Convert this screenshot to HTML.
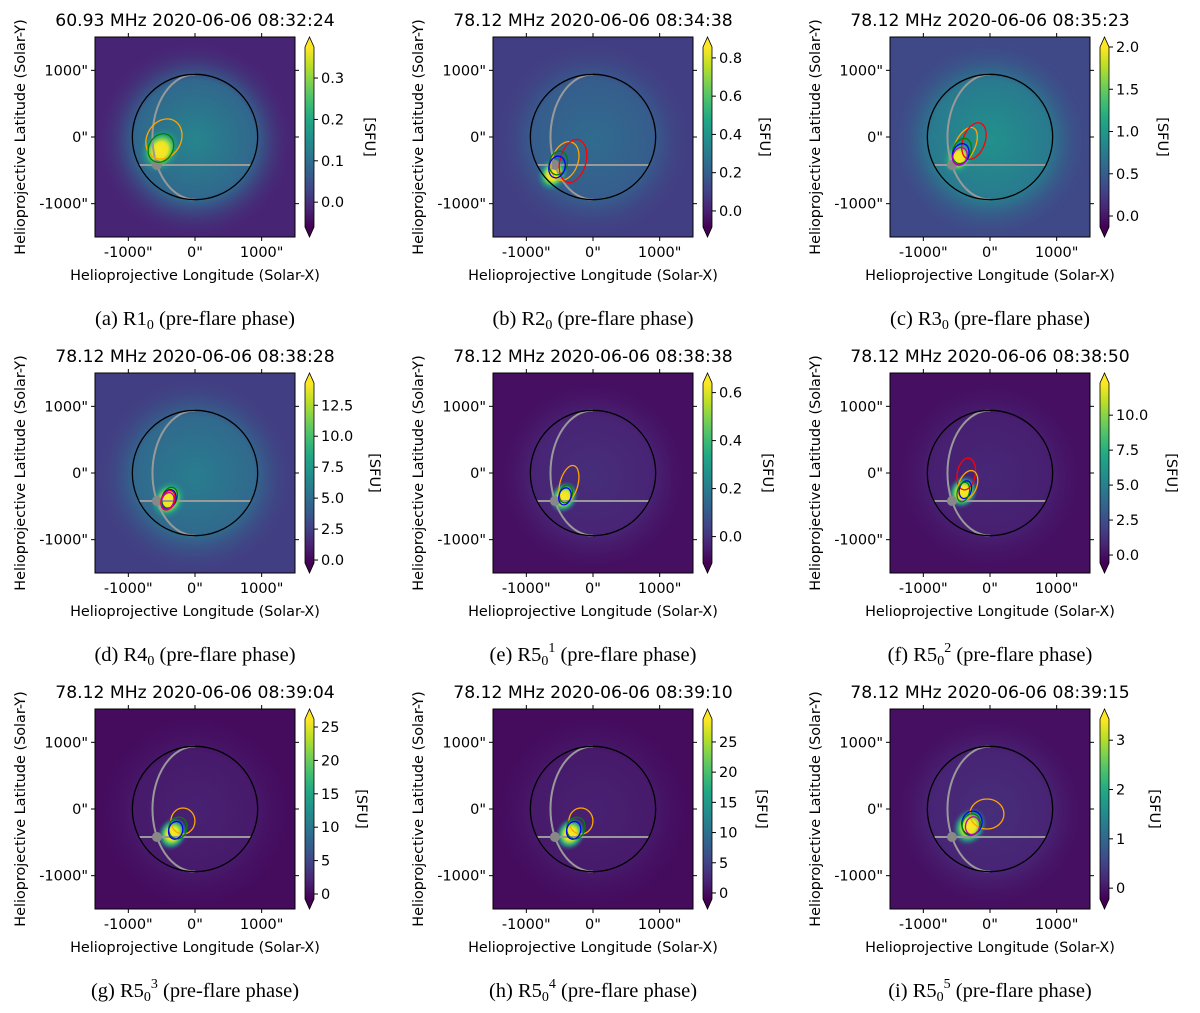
<!DOCTYPE html>
<html><head><meta charset="utf-8"><style>
body{margin:0;background:#fff;}
svg{display:block;}
text{font-family:"DejaVu Sans","Liberation Sans",sans-serif;fill:#000;}
.cap{font-family:"Liberation Serif",serif;font-size:20.5px;}
</style></head><body>
<svg id="fig" width="1200" height="1013" viewBox="0 0 1200 1013" xmlns="http://www.w3.org/2000/svg"></svg>
<script>
// ---- data ----
const freqs=["60.93","78.12","78.12","78.12","78.12","78.12","78.12","78.12","78.12"];
const times=["08:32:24","08:34:38","08:35:23","08:38:28","08:38:38","08:38:50","08:39:04","08:39:10","08:39:15"];
const cbMin=[-0.06,-0.084,-0.13,-0.24,-0.11,-0.57,-0.75,-1.0,-0.22];
const cbMax=[0.375,0.857,2.0,14.3,0.64,12.3,26.2,28.8,3.43];
const cbTicks=[[0,0.1,0.2,0.3],[0,0.2,0.4,0.6,0.8],[0,0.5,1,1.5,2],[0,2.5,5,7.5,10,12.5],[0,0.2,0.4,0.6],[0,2.5,5,7.5,10],[0,5,10,15,20,25],[0,5,10,15,20,25],[0,1,2,3]];
const cbTickLabels=[["0.0","0.1","0.2","0.3"],["0.0","0.2","0.4","0.6","0.8"],["0.0","0.5","1.0","1.5","2.0"],["0.0","2.5","5.0","7.5","10.0","12.5"],["0.0","0.2","0.4","0.6"],["0.0","2.5","5.0","7.5","10.0"],["0","5","10","15","20","25"],["0","5","10","15","20","25"],["0","1","2","3"]];
const bgLevel=[0.1,0.18,0.22,0.18,0.04,0.04,0.03,0.03,0.04];
const diskLevel=[0.45,0.35,0.5,0.42,0.13,0.11,0.09,0.09,0.13];
const srcX=[-520,-600,-471,-400,-436,-406,-336,-336,-306];
const srcY=[-200,-555,-310,-400,-365,-285,-370,-370,-265];
const srcR=[300,230,230,260,220,230,230,230,260];
// contours: [x, y, rx, ry, rotation, colour] in arcsec
const contours=[
 [[-466,-30,255,315,30,"#ffa500"],[-511,-165,180,225,30,"#008000"]],
 [[-420,-360,195,300,20,"#ffa500"],[-300,-360,195,330,15,"#ff0000"],[-520,-390,135,180,15,"#008000"],[-540,-450,120,165,15,"#0000ff"]],
 [[-376,-135,150,300,25,"#ffa500"],[-241,-60,165,285,20,"#ff0000"],[-421,-210,135,195,20,"#008000"],[-440,-260,120,165,20,"#0000ff"],[-450,-290,105,135,20,"#c000c0"]],
 [[-380,-370,110,160,20,"#008000"],[-395,-395,105,150,20,"#0000ff"],[-405,-410,100,150,20,"#ff0000"],[-410,-420,90,130,20,"#c000c0"]],
 [[-361,-165,135,285,15,"#ffa500"],[-406,-315,95,135,15,"#008000"],[-421,-350,90,130,15,"#0000ff"]],
 [[-356,-15,135,240,10,"#ff0000"],[-331,-180,135,225,20,"#ffa500"],[-370,-250,90,135,15,"#0000ff"],[-400,-285,90,150,15,"#008000"]],
 [[-181,-180,180,195,0,"#ffa500"],[-256,-285,135,165,15,"#008000"],[-290,-320,105,135,15,"#0000ff"]],
 [[-181,-180,180,195,0,"#ffa500"],[-256,-285,135,165,15,"#008000"],[-290,-320,105,135,15,"#0000ff"]],
 [[-46,-75,255,225,0,"#ffa500"],[-271,-210,150,180,15,"#0000ff"],[-281,-235,135,165,15,"#008000"],[-261,-250,105,135,15,"#c000c0"]]
];
const capLetters=["a","b","c","d","e","f","g","h","i"];
const capBase=["R1","R2","R3","R4","R5","R5","R5","R5","R5"];
const capSup=["","","","","1","2","3","4","5"];
// ---- layout ----
const colX=[95,493,890], rowY=[37,373,709];
const sfuX=[275,272,273,280,275,282,267,269,265];
const S=200, SCALE=200/3000;
const NS="http://www.w3.org/2000/svg";
const svg=document.getElementById('fig');
function el(tag,attrs,parent,txt){const e=document.createElementNS(NS,tag);for(const k in attrs)e.setAttribute(k,attrs[k]);if(txt!==undefined)e.textContent=txt;(parent||svg).appendChild(e);return e;}
const vir=[[68,1,84],[72,36,117],[65,68,135],[53,95,141],[42,120,142],[33,145,140],[34,168,132],[68,191,112],[122,209,81],[189,223,38],[253,231,37]];
function viridis(t){t=Math.max(0,Math.min(1,t));const f=t*10,i=Math.min(9,Math.floor(f)),r=f-i;const a=vir[i],b=vir[i+1];return "rgb("+a.map((v,k)=>Math.round(v+(b[k]-v)*r)).join(",")+")";}
const defs=el('defs',{});
const cg=el('linearGradient',{id:'cbg',x1:0,y1:1,x2:0,y2:0},defs);
for(let k=0;k<=10;k++)el('stop',{offset:k/10,'stop-color':viridis(k/10)},cg);

for(let p=0;p<9;p++){
  const x0=colX[p%3], y0=rowY[Math.floor(p/3)];
  const cx=x0+S/2, cy=y0+S/2;
  const X=v=>cx+v*SCALE, Y=v=>cy-v*SCALE;
  const g=el('g',{},svg);
  
  
  const dg=el('radialGradient',{id:'disk'+p},defs);
  el('stop',{offset:0,'stop-color':viridis(diskLevel[p])},dg);
  el('stop',{offset:0.6,'stop-color':viridis((diskLevel[p]*2+bgLevel[p])/3)},dg);
  el('stop',{offset:1,'stop-color':viridis(bgLevel[p]),'stop-opacity':0},dg);
  const sg=el('radialGradient',{id:'src'+p},defs);
  [[0,1,1],[0.35,0.97,1],[0.5,0.8,1],[0.7,0.55,0.8],[1,diskLevel[p],0]].forEach(s=>el('stop',{offset:s[0],'stop-color':viridis(s[1]),'stop-opacity':s[2]},sg));
  const cp=el('clipPath',{id:'clip'+p},defs);
  el('rect',{x:x0,y:y0,width:S,height:S},cp);
  const img=el('g',{'clip-path':'url(#clip'+p+')'},g);
  const bg=el('rect',{x:x0,y:y0,width:S,height:S,fill:viridis(bgLevel[p])},img);
  
  
  el('circle',{cx:X(0),cy:Y(-50),r:1500*SCALE,fill:'url(#disk'+p+')'},img);
  const src=el('ellipse',{cx:X(srcX[p]),cy:Y(srcY[p]),rx:srcR[p]*SCALE,ry:srcR[p]*1.2*SCALE,fill:'url(#src'+p+')',transform:'rotate(30 '+X(srcX[p])+' '+Y(srcY[p])+')'},img);
  
  
  const R=940, lat=-420, hw=Math.sqrt(R*R-lat*lat);
  el('line',{x1:X(-hw),y1:Y(lat),x2:X(hw),y2:Y(lat),stroke:'#999',"stroke-width":2},img);
  const rxm=638;
  el('path',{d:'M '+X(0)+' '+Y(R)+' A '+(rxm*SCALE)+' '+(R*SCALE)+' 0 0 0 '+X(0)+' '+Y(-R),fill:'none',stroke:'#999','stroke-width':2},img);
  el('circle',{cx:X(-571),cy:Y(lat),r:5,fill:'#888'},img);
  const limb=el('circle',{cx:X(0),cy:Y(0),r:R*SCALE,fill:'none',stroke:'#000','stroke-width':1.3},img);
  
  
  contours[p].forEach(c=>{
    const e=el('ellipse',{cx:X(c[0]),cy:Y(c[1]),rx:c[2]*SCALE,ry:c[3]*SCALE,fill:'none',stroke:c[5],'stroke-width':1.3,transform:'rotate('+c[4]+' '+X(c[0])+' '+Y(c[1])+')'},img);
    
    
  });
  el('rect',{x:x0,y:y0,width:S,height:S,fill:'none',stroke:'#000','stroke-width':1},g);
  [-1000,0,1000].forEach((v,k)=>{
    el('line',{x1:X(v),y1:y0+S,x2:X(v),y2:y0+S+4,stroke:'#000'},g);
    el('line',{x1:X(v),y1:y0,x2:X(v),y2:y0-4,stroke:'#000'},g);
    el('line',{x1:x0,y1:Y(v),x2:x0-4,y2:Y(v),stroke:'#000'},g);
    el('line',{x1:x0+S,y1:Y(v),x2:x0+S+4,y2:Y(v),stroke:'#000'},g);
    const lab=v+'"';
    const xt=el('text',{x:X(v),y:y0+S+20,'font-size':14.5,'text-anchor':'middle'},g,lab);
    
    
    const yt=el('text',{x:x0-7,y:Y(v)+5,'font-size':14.5,'text-anchor':'end'},g,lab);
    
    
  });
  const xl=el('text',{x:cx,y:y0+S+43,'font-size':14.4,'text-anchor':'middle'},g,'Helioprojective Longitude (Solar-X)');
  
  
  const yl=el('text',{x:0,y:0,'font-size':14.4,'text-anchor':'middle',transform:'translate('+(x0-70)+','+cy+') rotate(-90)'},g,'Helioprojective Latitude (Solar-Y)');
  
  
  const tt=el('text',{x:cx,y:y0-11,'font-size':17.2,'text-anchor':'middle'},g,freqs[p]+' MHz 2020-06-06 '+times[p]);
  
  
  const bx=x0+210, bw=9, bt=y0+10, bb=y0+190;
  const cb=el('g',{},g);
  
  
  el('rect',{x:bx,y:bt,width:bw,height:bb-bt,fill:'url(#cbg)'},cb);
  el('path',{d:`M${bx} ${bt} L${bx+bw/2} ${y0} L${bx+bw} ${bt} Z`,fill:viridis(1)},cb);
  el('path',{d:`M${bx} ${bb} L${bx+bw/2} ${y0+S} L${bx+bw} ${bb} Z`,fill:viridis(0)},cb);
  el('path',{d:`M${bx} ${bt} L${bx+bw/2} ${y0} L${bx+bw} ${bt} L${bx+bw} ${bb} L${bx+bw/2} ${y0+S} L${bx} ${bb} Z`,fill:'none',stroke:'#000','stroke-width':0.8},cb);
  const CY=v=>bb-(v-cbMin[p])/(cbMax[p]-cbMin[p])*(bb-bt);
  cbTicks[p].forEach((v,k)=>{
    el('line',{x1:bx+bw,y1:CY(v),x2:bx+bw+4,y2:CY(v),stroke:'#000'},cb);
    const t=el('text',{x:bx+bw+7,y:CY(v)+5,'font-size':14.5},cb,cbTickLabels[p][k]);
    
    
  });
  const su=el('text',{x:0,y:0,'font-size':14.5,'text-anchor':'middle',transform:'translate('+(x0+sfuX[p]-5)+','+cy+') rotate(90)'},cb,'[SFU]');
  
  
  const cap=el('text',{x:cx,y:y0+288,'text-anchor':'middle',class:'cap'},g);
  
  
  el('tspan',{},cap,'('+capLetters[p]+') '+capBase[p]);
  el('tspan',{'font-size':14,dy:4},cap,'0');
  if(capSup[p]){el('tspan',{'font-size':14,dy:-13},cap,capSup[p]);el('tspan',{dy:9},cap,' (pre-flare phase)');}
  else el('tspan',{dy:-4},cap,' (pre-flare phase)');
}
</script>
</body></html>
